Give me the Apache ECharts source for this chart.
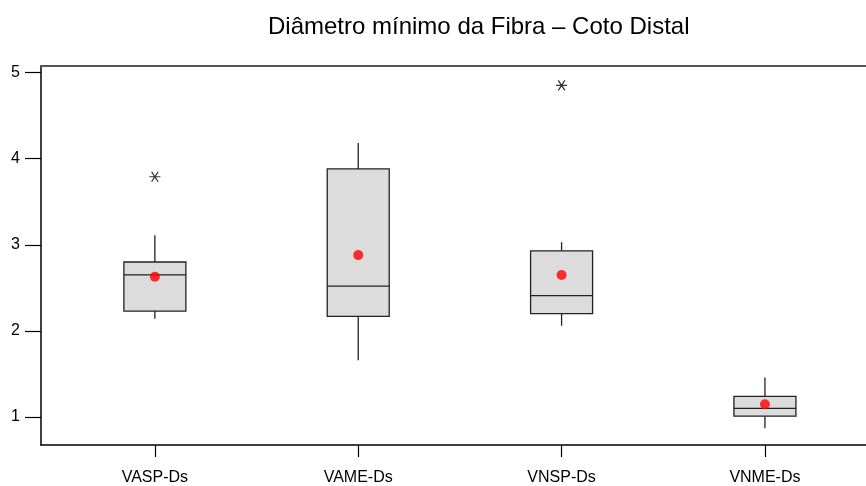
<!DOCTYPE html>
<html>
<head>
<meta charset="utf-8">
<script src="https://cdn.jsdelivr.net/npm/echarts@6/dist/echarts.min.js"></script>
<style>html,body{margin:0;padding:0;background:#fff;}#chart{width:866px;height:486px;}</style>
</head>
<body>
<div id="chart"></div>
<script>
const categories = ['VASP-Ds', 'VAME-Ds', 'VNSP-Ds', 'VNME-Ds'];
// [min whisker, Q1, median, Q3, max whisker]
const boxValues = [
  [2.14, 2.23, 2.65, 2.80, 3.11],
  [1.66, 2.17, 2.52, 3.88, 4.18],
  [2.06, 2.20, 2.41, 2.93, 3.03],
  [0.87, 1.01, 1.10, 1.24, 1.46]
];
const means = [2.63, 2.88, 2.65, 1.15];
const outliers = [[0, 3.79], [2, 4.85]]; // [category index, value]
const yTicks = [1, 2, 3, 4, 5];

const positions = categories.map((c, i) => i + 1);
const boxData = boxValues.map((b, i) => [positions[i]].concat(b));
const meanData = means.map((m, i) => [positions[i], m]);
const outlierData = outliers.map(o => [positions[o[0]], o[1]]);

const chart = echarts.init(document.getElementById('chart'));
const font = 'Liberation Sans, Arial, sans-serif';
chart.setOption({
  animation: false,
  title: {
    text: 'Diâmetro mínimo da Fibra – Coto Distal',
    left: 263, top: 10,
    textStyle: { fontFamily: font, fontSize: 24, fontWeight: 'normal', color: '#000' }
  },
  grid: { left: 41, right: 0, top: 66, bottom: 39 },
  xAxis: [{
    type: 'value', min: 0.44, max: 4.497,
    axisLine: { show: true, lineStyle: { color: '#000', width: 1.5 } },
    axisTick: { show: true, customValues: positions, length: 12, lineStyle: { color: '#000', width: 1.2 } },
    axisLabel: { customValues: positions, formatter: v => categories[Math.round(v) - 1], fontFamily: font, fontSize: 16, color: '#000', margin: 25 },
    splitLine: { show: false }
  }, {
    type: 'value', position: 'top', min: 0.44, max: 4.497,
    axisLine: { show: true, onZero: false, lineStyle: { color: '#555', width: 2 } },
    axisTick: { show: false }, axisLabel: { show: false }, splitLine: { show: false }
  }],
  yAxis: {
    type: 'value', min: 0.676, max: 5.075,
    axisLine: { show: true, lineStyle: { color: '#000', width: 1.5 } },
    axisTick: { show: true, customValues: yTicks, length: 16, lineStyle: { color: '#000', width: 1.2 } },
    axisLabel: { customValues: yTicks, fontFamily: font, fontSize: 16, color: '#000', margin: 21 },
    splitLine: { show: false }
  },
  series: [{
    type: 'custom',
    data: boxData,
    renderItem: function (params, api) {
      const x = api.value(0);
      const pMin = api.coord([x, api.value(1)]);
      const pQ1 = api.coord([x, api.value(2)]);
      const pMed = api.coord([x, api.value(3)]);
      const pQ3 = api.coord([x, api.value(4)]);
      const pMax = api.coord([x, api.value(5)]);
      const hw = 31;
      const stroke = { stroke: '#222', lineWidth: 1.3 };
      return {
        type: 'group',
        children: [
          { type: 'line', shape: { x1: pMax[0], y1: pMax[1], x2: pQ3[0], y2: pQ3[1] }, style: stroke },
          { type: 'line', shape: { x1: pMin[0], y1: pMin[1], x2: pQ1[0], y2: pQ1[1] }, style: stroke },
          { type: 'rect', shape: { x: pQ3[0] - hw, y: pQ3[1], width: 2 * hw, height: pQ1[1] - pQ3[1] }, style: { fill: '#dcdcdc', stroke: '#222', lineWidth: 1.3 } },
          { type: 'line', shape: { x1: pMed[0] - hw, y1: pMed[1], x2: pMed[0] + hw, y2: pMed[1] }, style: stroke }
        ]
      };
    }
  }, {
    type: 'scatter', data: meanData, symbol: 'circle', symbolSize: 10,
    itemStyle: { color: '#ff0000' }, z: 5
  }, {
    type: 'scatter', data: outlierData,
    symbol: 'path://M-5 0 L5 0 M-3 -4.5 L3 4.5 M3 -4.5 L-3 4.5',
    symbolSize: [11, 10],
    itemStyle: { color: 'none', borderColor: '#000', borderWidth: 1.2 }, z: 5
  }]
});
</script>
</body>
</html>
